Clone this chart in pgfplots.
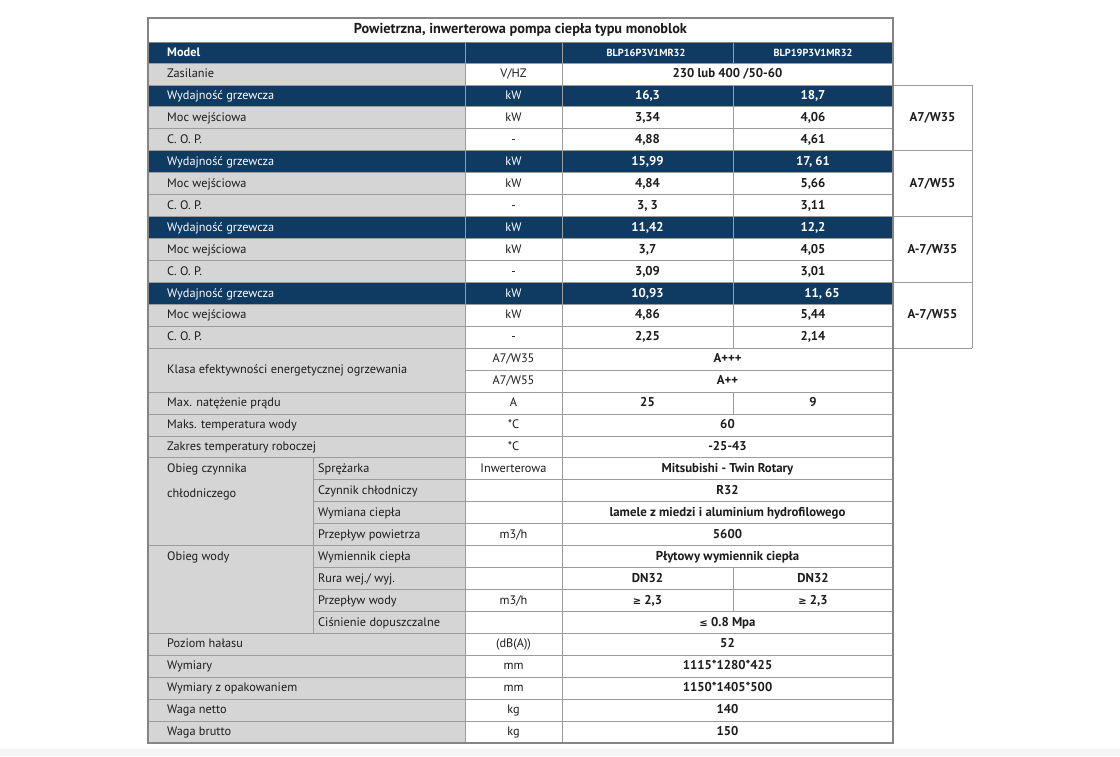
\documentclass[border=0pt]{standalone}
\usepackage{pgfplots}
\pgfplotsset{compat=1.18}
\usepackage{fontspec}
\setmainfont{PT Sans}
\newfontfamily\symfont{DejaVu Sans}
\definecolor{navy}{HTML}{0F3A62}
\definecolor{cellgray}{HTML}{D5D5D5}
\definecolor{gridc}{HTML}{9C9C9C}
\definecolor{txt}{HTML}{1C1C1C}

% row boundary b -> pixel y
\newcommand\Y[1]{63+21.935*(#1)}
\newcommand\navyrow[1]{\fill[navy] (axis cs:148,{\Y{#1}}) rectangle (axis cs:893,{\Y{#1+1}});}
\newcommand\hl[3]{\draw[gridc, line width=0.8pt] (axis cs:#2,{\Y{#1}}) -- (axis cs:#3,{\Y{#1}});}
\newcommand\vl[3]{\draw[gridc, line width=0.8pt] (axis cs:#1,{\Y{#2}}) -- (axis cs:#1,{\Y{#3}});}
% text cells: [colour] row, text
\newcommand\lab[3][txt]{\node[lbl, text=#1] at (axis cs:167,{\Y{#2+0.5}}) {#3};}
\newcommand\sub[2]{\node[lbl] at (axis cs:318,{\Y{#1+0.5}}) {#2};}
\newcommand\unit[3][txt]{\node[ctr, text=#1] at (axis cs:513.5,{\Y{#2+0.5}}) {#3};}
\newcommand\both[2]{\node[val] at (axis cs:727.5,{\Y{#1+0.5}}) {#2};}
\newcommand\two[4][txt]{\node[val, text=#1] at (axis cs:647.5,{\Y{#2+0.5}}) {#3};
  \node[val, text=#1] at (axis cs:813,{\Y{#2+0.5}}) {#4};}
\newcommand\symge{{\symfont\fontsize{10}{11}\selectfont ≥}}
\newcommand\symle{{\symfont\fontsize{10}{11}\selectfont ≤}}

\begin{document}
\begin{tikzpicture}[
    lbl/.style={anchor=mid west, inner sep=0pt, yshift=-1.2pt, text=txt, font=\fontsize{12.3}{14}\selectfont},
    ctr/.style={anchor=mid, inner sep=0pt, yshift=-1.2pt, text=txt, font=\fontsize{12.3}{14}\selectfont},
    val/.style={anchor=mid, inner sep=0pt, yshift=-1.2pt, text=txt, font=\fontsize{12.8}{14}\selectfont\bfseries},
]
\begin{axis}[
    scale only axis,
    width=1120pt, height=756pt,
    xmin=0, xmax=1120, ymin=0, ymax=756,
    y dir=reverse,
    hide axis,
    clip=false,
]
% page
\fill[white] (axis cs:0,0) rectangle (axis cs:1120,756);
\fill[gray!8] (axis cs:0,749) rectangle (axis cs:1120,756);

% fills
\fill[white] (axis cs:148,18) rectangle (axis cs:893,42);
\fill[navy] (axis cs:148,42) rectangle (axis cs:893,63);
\fill[cellgray] (axis cs:148,{\Y{0}}) rectangle (axis cs:465,{\Y{31}});
\navyrow{1}\navyrow{4}\navyrow{7}\navyrow{10}

% horizontal rules
\hl{0}{148}{893}
\pgfplotsinvokeforeach{1,2,3,4,5,6,7,8,9,10,11,12,13,15,16,17,18,22,26,27,28,29,30}{\hl{#1}{148}{893}}
\hl{14}{465}{893}
\pgfplotsinvokeforeach{19,20,21,23,24,25}{\hl{#1}{313}{893}}
\pgfplotsinvokeforeach{1,4,7,10,13}{\hl{#1}{893}{972}}

% vertical rules
\draw[gridc, line width=0.8pt] (axis cs:465,42) -- (axis cs:465,{\Y{31}});
\draw[gridc, line width=0.8pt] (axis cs:562,42) -- (axis cs:562,{\Y{31}});
\draw[gridc, line width=0.8pt] (axis cs:733,42) -- (axis cs:733,{\Y{0}});
\vl{733}{1}{13}
\vl{733}{15}{16}
\vl{733}{23}{25}
\vl{313}{18}{26}
\vl{972}{1}{13}

% outer frame
\draw[gridc!85!black, line width=1.5pt] (axis cs:148,18) rectangle (axis cs:893,{\Y{31}});
\draw[gridc!85!black, line width=0.8pt] (axis cs:148,42) -- (axis cs:893,42);

% title and header
\node[anchor=mid, yshift=-1pt, text=txt, font=\fontsize{14.3}{16}\selectfont\bfseries] at (axis cs:520.5,30) {Powietrzna, inwerterowa pompa ciepła typu monoblok};
\node[lbl, text=white, font=\fontsize{12.3}{14}\selectfont\bfseries] at (axis cs:167,52.5) {Model};
\node[val, text=white, font=\fontsize{10.3}{11}\selectfont\bfseries] at (axis cs:646,52.5) {BLP16P3V1MR32};
\node[val, text=white, font=\fontsize{10.3}{11}\selectfont\bfseries] at (axis cs:813,52.5) {BLP19P3V1MR32};

% Zasilanie
\lab{0}{Zasilanie}\unit{0}{V/HZ}\both{0}{230 lub 400 /50-60}

% performance groups
\lab[white]{1}{Wydajność grzewcza}\unit[white]{1}{kW}\two[white]{1}{16,3}{18,7}
\lab[white]{4}{Wydajność grzewcza}\unit[white]{4}{kW}\two[white]{4}{15,99}{17, 61}
\lab[white]{7}{Wydajność grzewcza}\unit[white]{7}{kW}\two[white]{7}{11,42}{12,2}
\lab[white]{10}{Wydajność grzewcza}\unit[white]{10}{kW}\two[white]{10}{10,93}{\hspace*{18pt}11, 65}
\lab{2}{Moc wejściowa}\unit{2}{kW}\two{2}{3,34}{4,06}
\lab{3}{C. O. P.}\unit{3}{-}\two{3}{4,88}{4,61}
\lab{5}{Moc wejściowa}\unit{5}{kW}\two{5}{4,84}{5,66}
\lab{6}{C. O. P.}\unit{6}{-}\two{6}{3, 3}{3,11}
\lab{8}{Moc wejściowa}\unit{8}{kW}\two{8}{3,7}{4,05}
\lab{9}{C. O. P.}\unit{9}{-}\two{9}{3,09}{3,01}
\lab{11}{Moc wejściowa}\unit{11}{kW}\two{11}{4,86}{5,44}
\lab{12}{C. O. P.}\unit{12}{-}\two{12}{2,25}{2,14}

% test conditions
\node[val] at (axis cs:932.5,{\Y{2.5}}) {A7/W35};
\node[val] at (axis cs:932.5,{\Y{5.5}}) {A7/W55};
\node[val] at (axis cs:932.5,{\Y{8.5}}) {A-7/W35};
\node[val] at (axis cs:932.5,{\Y{11.5}}) {A-7/W55};

% class and limits
\node[lbl] at (axis cs:167,{\Y{14}}) {Klasa efektywności energetycznej ogrzewania};
\unit{13}{A7/W35}\both{13}{A+++}
\unit{14}{A7/W55}\both{14}{A++}
\lab{15}{Max. natężenie prądu}\unit{15}{A}\two{15}{25}{9}
\lab{16}{Maks. temperatura wody}\unit{16}{*C}\both{16}{60}
\lab{17}{Zakres temperatury roboczej}\unit{17}{*C}\both{17}{-25-43}

% circuits
\lab{18}{Obieg czynnika}
\node[lbl] at (axis cs:167,494) {chłodniczego};
\sub{18}{Sprężarka}\unit{18}{Inwerterowa}\both{18}{Mitsubishi - Twin Rotary}
\sub{19}{Czynnik chłodniczy}\both{19}{R32}
\sub{20}{Wymiana ciepła}\both{20}{lamele z miedzi i aluminium hydrofilowego}
\sub{21}{Przepływ powietrza}\unit{21}{m3/h}\both{21}{5600}
\lab{22}{Obieg wody}
\sub{22}{Wymiennik ciepła}\both{22}{Płytowy wymiennik ciepła}
\sub{23}{Rura wej./ wyj.}\two{23}{DN32}{DN32}
\sub{24}{Przepływ wody}\unit{24}{m3/h}\two{24}{\symge{} 2,3}{\symge{} 2,3}
\sub{25}{Ciśnienie dopuszczalne}\both{25}{\symle{} 0.8 Mpa}

% general
\lab{26}{Poziom hałasu}\unit{26}{(dB(A))}\both{26}{52}
\lab{27}{Wymiary}\unit{27}{mm}\both{27}{1115*1280*425}
\lab{28}{Wymiary z opakowaniem}\unit{28}{mm}\both{28}{1150*1405*500}
\lab{29}{Waga netto}\unit{29}{kg}\both{29}{140}
\lab{30}{Waga brutto}\unit{30}{kg}\both{30}{150}
\end{axis}
\end{tikzpicture}
\end{document}
